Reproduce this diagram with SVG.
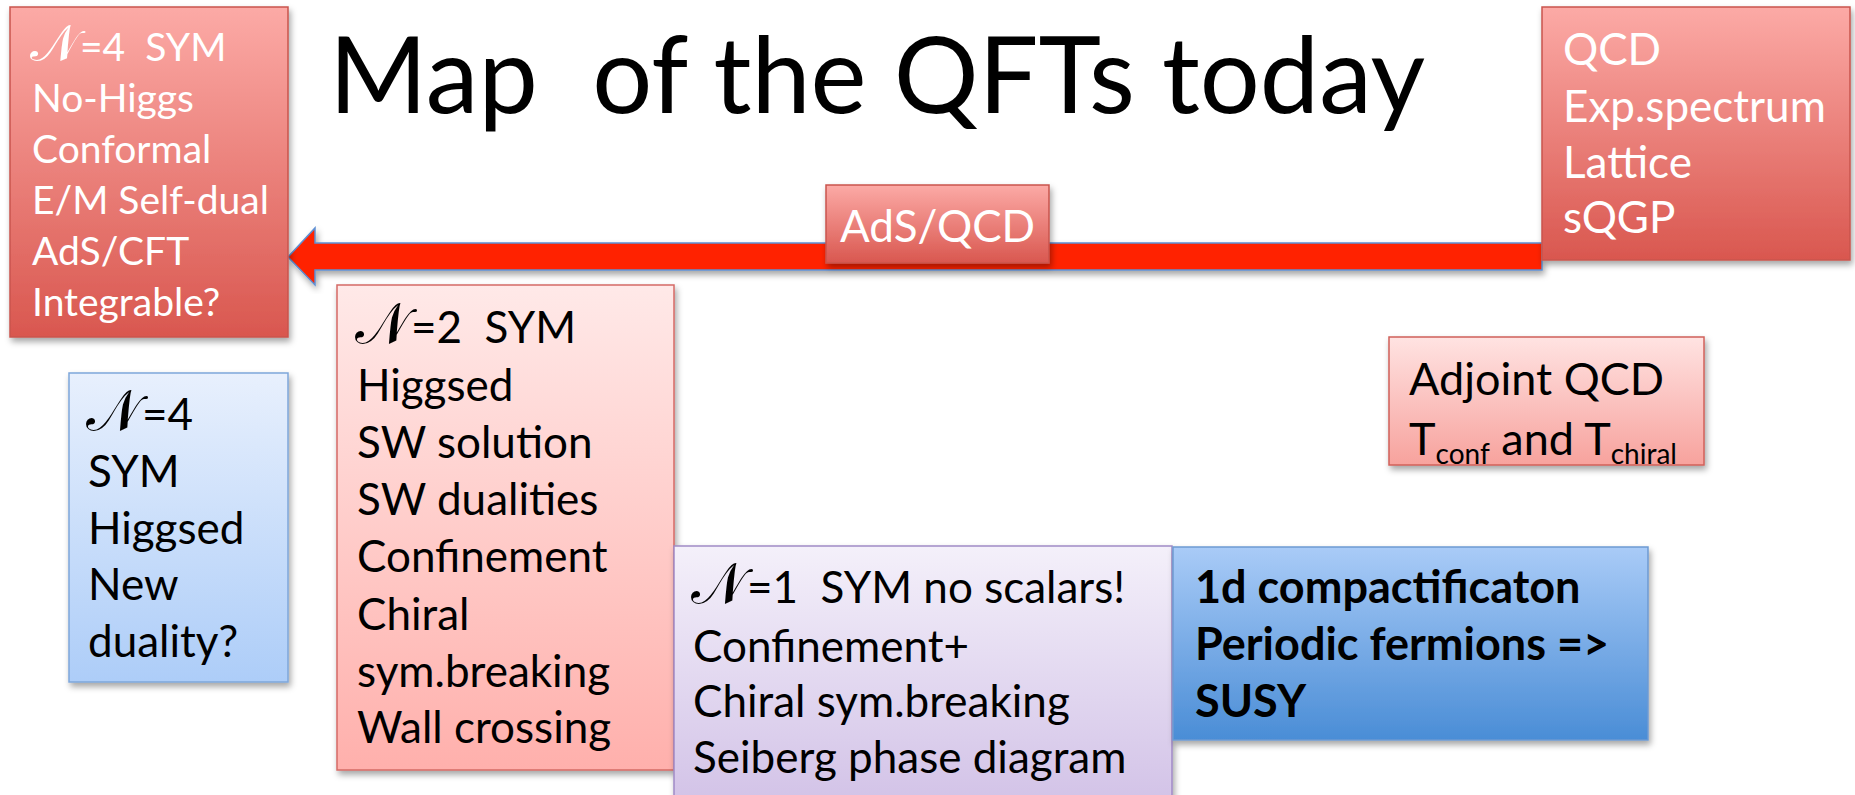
<svg xmlns="http://www.w3.org/2000/svg" width="1855" height="795" viewBox="0 0 1855 795">
<defs>
<linearGradient id="gRed" x1="0" y1="0" x2="0" y2="1">
<stop offset="0" stop-color="#FCAAA6"/><stop offset="1" stop-color="#D9574F"/>
</linearGradient>
<linearGradient id="gPink" x1="0" y1="0" x2="0" y2="1">
<stop offset="0" stop-color="#FFE9E8"/><stop offset="1" stop-color="#FFB0AC"/>
</linearGradient>
<linearGradient id="gPink2" x1="0" y1="0" x2="0" y2="1">
<stop offset="0" stop-color="#FFE3E2"/><stop offset="1" stop-color="#F7A29D"/>
</linearGradient>
<linearGradient id="gBlueL" x1="0" y1="0" x2="0" y2="1">
<stop offset="0" stop-color="#E8F0FD"/><stop offset="1" stop-color="#ADCDF8"/>
</linearGradient>
<linearGradient id="gBlue" x1="0" y1="0" x2="0" y2="1">
<stop offset="0" stop-color="#A9CBF7"/><stop offset="1" stop-color="#4A8DD6"/>
</linearGradient>
<linearGradient id="gPurple" x1="0" y1="0" x2="0" y2="1">
<stop offset="0" stop-color="#F4F0FA"/><stop offset="1" stop-color="#D2C2E7"/>
</linearGradient>
<filter id="sh" x="-10%" y="-10%" width="125%" height="125%">
<feDropShadow dx="2" dy="4" stdDeviation="3" flood-color="#000" flood-opacity="0.35"/>
</filter>
</defs>
<style>
.t{font-family:Lato,"Open Sans","Liberation Sans",sans-serif;}
.w{fill:#FFFFFF;}
.k{fill:#000000;}
.f39{font-size:39px;}
.f44{font-size:44px;}
.f45{font-size:45px;}
.sub{font-size:28px;}
.b{font-weight:bold;}
.n{font-family:"DejaVu Serif","DejaVu Sans",serif;font-size:1.3em;}
.redbox{fill:url(#gRed);stroke:#C9544D;stroke-width:1.5;filter:url(#sh);}
.pinkbox{fill:url(#gPink);stroke:#D56A65;stroke-width:1.5;filter:url(#sh);}
.pink2box{fill:url(#gPink2);stroke:#D0605A;stroke-width:1.5;filter:url(#sh);}
.bluelbox{fill:url(#gBlueL);stroke:#7EA6DA;stroke-width:1.5;filter:url(#sh);}
.bluebox{fill:url(#gBlue);stroke:#6E9AD2;stroke-width:1.5;filter:url(#sh);}
.purplebox{fill:url(#gPurple);stroke:#A08AC6;stroke-width:1.5;filter:url(#sh);}
</style>
<rect x="0" y="0" width="1855" height="795" fill="#FFFFFF"/>

<g id="title">
<text class="t k" x="329" y="113" font-size="106">Map&#160; of the QFTs today</text>
</g>

<g id="connectors">
<polygon points="288,257 315,228 315,243 1542,243 1542,270 315,270 315,285" fill="#FF2400" stroke="#5E8FD2" stroke-width="1.5" filter="url(#sh)"/>
</g>

<g id="n4sym">
<rect class="redbox" x="10" y="7" width="278" height="330"/>
<text class="t w f39">
<tspan x="30" y="61"><tspan class="n">𝒩</tspan><tspan dx="1">=4&#160; SYM</tspan></tspan>
<tspan x="32" y="112">No-Higgs</tspan>
<tspan x="32" y="163">Conformal</tspan>
<tspan x="32" y="214">E/M Self-dual</tspan>
<tspan x="32" y="265">AdS/CFT</tspan>
<tspan x="32" y="316">Integrable?</tspan>
</text>
</g>

<g id="qcd">
<rect class="redbox" x="1542" y="7" width="308" height="253"/>
<text class="t w f44">
<tspan x="1563" y="65">QCD</tspan>
<tspan x="1563" y="122">Exp.spectrum</tspan>
<tspan x="1563" y="178">Lattice</tspan>
<tspan x="1563" y="233">sQGP</tspan>
</text>
</g>

<g id="adsqcd">
<rect class="redbox" x="826" y="185" width="223" height="78"/>
<text class="t w f44" x="937.5" y="242" text-anchor="middle">AdS/QCD</text>
</g>

<g id="n4higgsed">
<rect class="bluelbox" x="69" y="373" width="219" height="309"/>
<text class="t k f44">
<tspan x="86" y="430"><tspan class="n">𝒩</tspan><tspan dx="1">=4</tspan></tspan>
<tspan x="88" y="487">SYM</tspan>
<tspan x="88" y="544">Higgsed</tspan>
<tspan x="88" y="600">New</tspan>
<tspan x="88" y="657">duality?</tspan>
</text>
</g>

<g id="n2sym">
<rect class="pinkbox" x="337" y="285" width="337" height="485"/>
<text class="t k f44">
<tspan x="355" y="343"><tspan class="n">𝒩</tspan><tspan dx="1">=2&#160; SYM</tspan></tspan>
<tspan x="357" y="401">Higgsed</tspan>
<tspan x="357" y="458">SW solution</tspan>
<tspan x="357" y="515">SW dualities</tspan>
<tspan x="357" y="572">Confinement</tspan>
<tspan x="357" y="630">Chiral</tspan>
<tspan x="357" y="687">sym.breaking</tspan>
<tspan x="357" y="743">Wall crossing</tspan>
</text>
</g>

<g id="n1sym">
<rect class="purplebox" x="674" y="546" width="498" height="260"/>
<text class="t k f44">
<tspan x="691" y="603"><tspan class="n">𝒩</tspan><tspan dx="1">=1&#160; SYM no scalars!</tspan></tspan>
<tspan x="693" y="662">Confinement+</tspan>
<tspan x="693" y="717">Chiral sym.breaking</tspan>
<tspan x="693" y="773">Seiberg phase diagram</tspan>
</text>
</g>

<g id="compact">
<rect class="bluebox" x="1173" y="547" width="475" height="193"/>
<text class="t k f45 b">
<tspan x="1195" y="603">1d compactificaton</tspan>
<tspan x="1195" y="660">Periodic fermions =&gt;</tspan>
<tspan x="1195" y="717">SUSY</tspan>
</text>
</g>

<g id="adjqcd">
<rect class="pink2box" x="1389" y="337" width="315" height="128"/>
<text class="t k f45">
<tspan x="1409" y="395">Adjoint QCD</tspan>
<tspan x="1409" y="455">T<tspan class="sub" dy="9">conf</tspan><tspan dy="-9"> and T</tspan><tspan class="sub" dy="9">chiral</tspan></tspan>
</text>
</g>
</svg>
